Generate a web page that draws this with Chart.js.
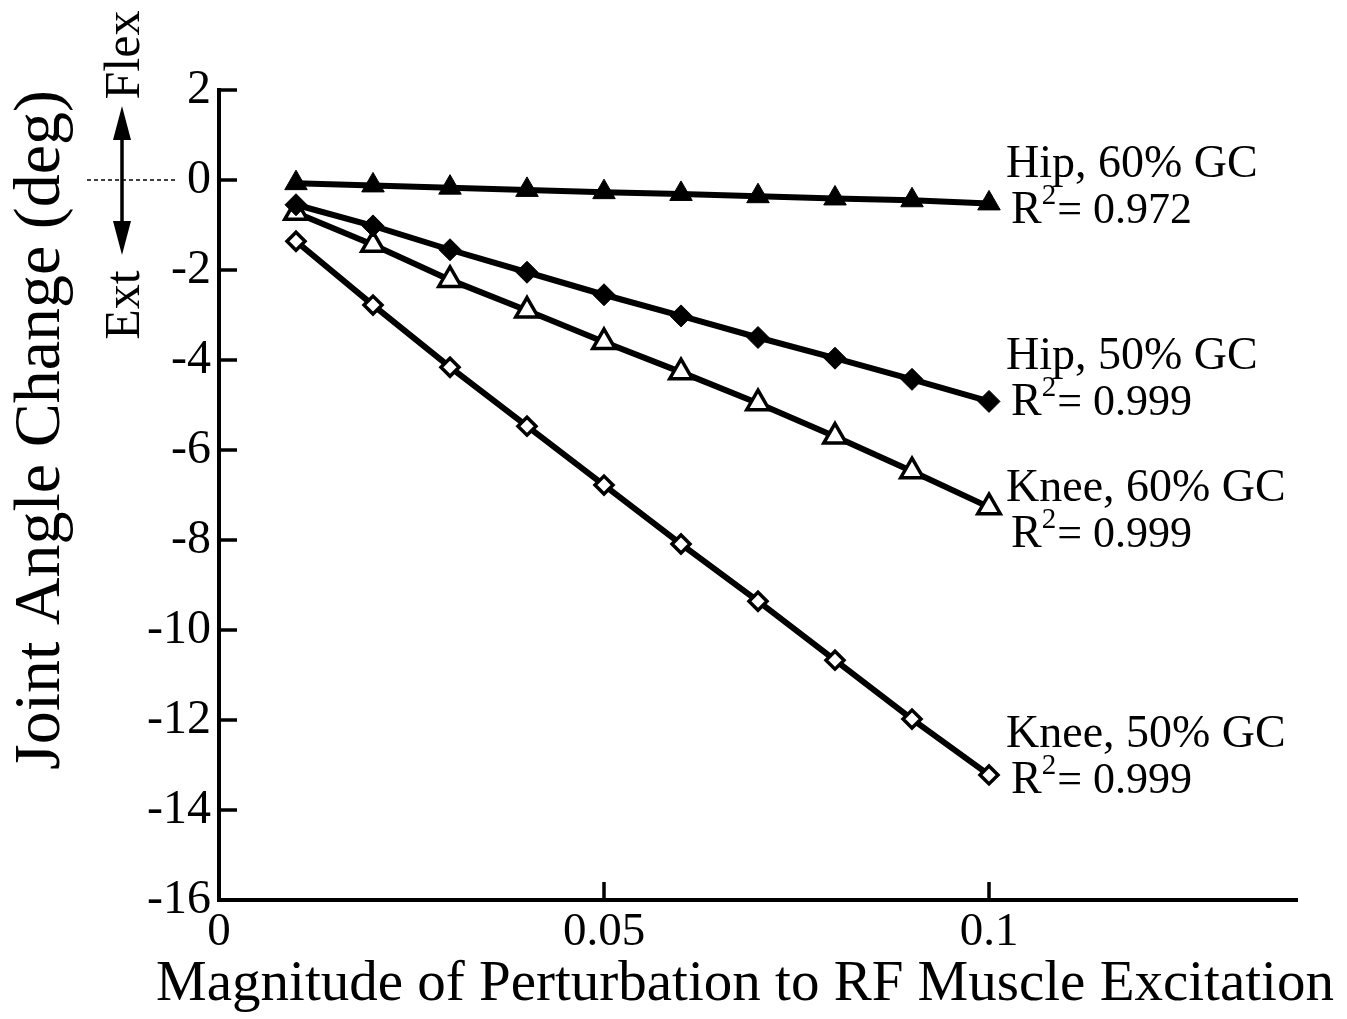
<!DOCTYPE html>
<html>
<head>
<meta charset="utf-8">
<script src="https://cdn.jsdelivr.net/npm/chart.js@4"></script>
<style>
  html, body { margin: 0; padding: 0; background: #fff; }
  #wrap { width: 1347px; height: 1019px; }
</style>
</head>
<body>
<div id="wrap"><canvas id="jointChart" width="1347" height="1019"></canvas></div>
<script>
// perturbation magnitudes
const perturbation = [0.01, 0.02, 0.03, 0.04, 0.05, 0.06, 0.07, 0.08, 0.09, 0.1];

// joint angle change (deg)
const hip60 = [-0.07, -0.12, -0.17, -0.22, -0.27, -0.31, -0.36, -0.41, -0.45, -0.52];
const hip50 = [-0.55, -1.02, -1.55, -2.05, -2.55, -3.02, -3.50, -3.96, -4.43, -4.92];
const knee60 = [-0.73, -1.44, -2.22, -2.90, -3.60, -4.27, -4.96, -5.70, -6.47, -7.27];
const knee50 = [-1.36, -2.78, -4.16, -5.47, -6.78, -8.09, -9.36, -10.67, -11.98, -13.22];

const seriesNames = ['Hip, 60% GC', 'Hip, 50% GC', 'Knee, 60% GC', 'Knee, 50% GC'];
const rSquared = ['0.972', '0.999', '0.999', '0.999'];

const xTicks = [0, 0.05, 0.1];
const yTicks = [2, 0, -2, -4, -6, -8, -10, -12, -14, -16];

const xTitle = 'Magnitude of Perturbation to RF Muscle Excitation';
const serif = "'Liberation Serif', 'DejaVu Serif', serif";

function pts(ys) {
    return perturbation.map((x, i) => ({ x: x, y: ys[i] }));
}

// where the text block next to each line sits (value units, y of first baseline)
const labelAt = [0.07, -4.2, -7.14, -12.6];

const annotations = {
    id: 'annotations',
    afterDraw(chart) {
        const ctx = chart.ctx;
        const xs = chart.scales.x, ys = chart.scales.y;
        const area = chart.chartArea;
        ctx.save();
        ctx.fillStyle = '#000';
        ctx.strokeStyle = '#000';

        // inward tick marks
        ctx.lineWidth = 3.5;
        yTicks.forEach(v => {
            const py = ys.getPixelForValue(v);
            ctx.beginPath();
            ctx.moveTo(area.left, py);
            ctx.lineTo(area.left + 18, py);
            ctx.stroke();
        });
        xTicks.forEach(v => {
            const px = xs.getPixelForValue(v);
            ctx.beginPath();
            ctx.moveTo(px, area.bottom);
            ctx.lineTo(px, area.bottom - 18);
            ctx.stroke();
        });

        // x axis title, wider than the plot area in the original
        ctx.font = '57px ' + serif;
        ctx.textAlign = 'center';
        ctx.textBaseline = 'alphabetic';
        ctx.fillText(xTitle, 745, 1000);

        // flex / ext indicator
        const zeroY = ys.getPixelForValue(0);
        ctx.lineWidth = 1.5;
        ctx.setLineDash([4, 3]);
        ctx.beginPath();
        ctx.moveTo(87, zeroY);
        ctx.lineTo(178, zeroY);
        ctx.stroke();
        ctx.setLineDash([]);
        ctx.lineWidth = 3.5;
        ctx.beginPath();
        ctx.moveTo(122, 128);
        ctx.lineTo(122, 232);
        ctx.stroke();
        ctx.beginPath();
        ctx.moveTo(122, 106); ctx.lineTo(113, 140); ctx.lineTo(131, 140); ctx.closePath();
        ctx.fill();
        ctx.beginPath();
        ctx.moveTo(122, 255); ctx.lineTo(113, 221); ctx.lineTo(131, 221); ctx.closePath();
        ctx.fill();

        ctx.font = '50px ' + serif;
        ctx.textBaseline = 'middle';
        ctx.save();
        ctx.translate(126, 55);
        ctx.rotate(-Math.PI / 2);
        ctx.fillText('Flex', 0, 0);
        ctx.restore();
        ctx.save();
        ctx.translate(126, 305);
        ctx.rotate(-Math.PI / 2);
        ctx.fillText('Ext', 0, 0);
        ctx.restore();

        // series labels with R^2
        ctx.textAlign = 'left';
        ctx.textBaseline = 'alphabetic';
        const lx = xs.getPixelForValue(perturbation[perturbation.length - 1]) + 17;
        seriesNames.forEach((name, i) => {
            const by = ys.getPixelForValue(labelAt[i]);
            ctx.font = '46px ' + serif;
            ctx.fillText(name, lx, by);
            const ry = by + 46;
            let cx = lx + 5;
            ctx.fillText('R', cx, ry);
            cx += ctx.measureText('R').width;
            ctx.font = '29px ' + serif;
            ctx.fillText('2', cx, ry - 19);
            cx += ctx.measureText('2').width + 1;
            ctx.font = '44px ' + serif;
            ctx.fillText('= ' + rSquared[i], cx, ry);
        });
        ctx.restore();
    }
};

const ctx = document.getElementById('jointChart').getContext('2d');
const jointChart = new Chart(ctx, {
    type: 'line',
    data: {
        datasets: [
            {
                label: seriesNames[0],
                data: pts(hip60),
                pointStyle: 'triangle',
                pointRadius: 13,
                pointBackgroundColor: '#000',
                pointBorderWidth: 1
            },
            {
                label: seriesNames[1],
                data: pts(hip50),
                pointStyle: 'rectRot',
                pointRadius: 11,
                pointBackgroundColor: '#000',
                pointBorderWidth: 1
            },
            {
                label: seriesNames[2],
                data: pts(knee60),
                pointStyle: 'triangle',
                pointRadius: 13,
                pointBackgroundColor: '#fff',
                pointBorderWidth: 3.5
            },
            {
                label: seriesNames[3],
                data: pts(knee50),
                pointStyle: 'rectRot',
                pointRadius: 9,
                pointBackgroundColor: '#fff',
                pointBorderWidth: 3.5
            }
        ].map(d => Object.assign({
            borderColor: '#000',
            borderWidth: 6,
            pointBorderColor: '#000',
            tension: 0,
            fill: false
        }, d))
    },
    options: {
        responsive: false,
        animation: false,
        layout: { padding: { left: 0, right: 50, top: 90, bottom: 0 } },
        plugins: {
            legend: { display: false },
            tooltip: { enabled: false }
        },
        scales: {
            x: {
                type: 'linear',
                min: 0,
                max: 0.14,
                afterBuildTicks: s => { s.ticks = xTicks.map(v => ({ value: v })); },
                afterFit: s => { s.height = 119; },
                grid: { display: false, drawTicks: false },
                border: { display: true, color: '#000', width: 4 },
                ticks: {
                    color: '#000',
                    padding: 4,
                    font: { family: serif, size: 47 },
                    callback: v => String(v)
                },
                title: { display: false }
            },
            y: {
                type: 'linear',
                min: -16,
                max: 2,
                afterBuildTicks: s => { s.ticks = yTicks.map(v => ({ value: v })); },
                afterFit: s => { s.width = 219; },
                grid: { display: false, drawTicks: false },
                border: { display: true, color: '#000', width: 4 },
                ticks: {
                    color: '#000',
                    padding: 8,
                    font: { family: serif, size: 48 },
                    callback: v => String(v)
                },
                title: {
                    display: true,
                    text: 'Joint Angle Change (deg)',
                    align: 'end',
                    color: '#000',
                    font: { family: serif, size: 66 },
                    padding: { top: 2, bottom: 0 }
                }
            }
        }
    },
    plugins: [annotations]
});
</script>
</body>
</html>
